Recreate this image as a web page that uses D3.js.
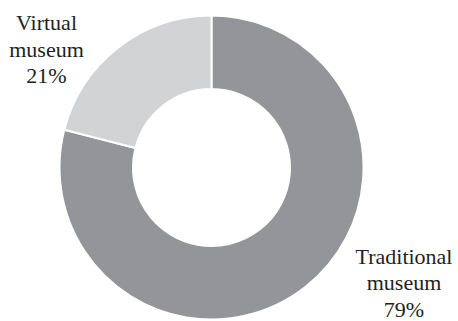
<!DOCTYPE html>
<html>
<head>
<meta charset="utf-8">
<script src="https://cdn.jsdelivr.net/npm/d3@7"></script>
<style>
  html, body { margin: 0; padding: 0; background: #fff; }
  svg { display: block; }
  text { font-family: "Liberation Serif", "DejaVu Serif", serif; fill: #231f20; }
</style>
</head>
<body>
<svg id="chart" width="458" height="321"></svg>
<script>
// Share of visitors by museum type
const categories = ["Traditional museum", "Virtual museum"];
const shares = [79, 21];
const sliceColors = ["#939598", "#d1d3d4"];
// Label lines per slice
const labelLines = [["Traditional", "museum", "79%"], ["Virtual", "museum", "21%"]];

const svg = d3.select("#chart");
const cx = 211.5, cy = 167.5;
const outerR = 152, innerR = 78.5;

const pie = d3.pie().sort(null).value(d => d)(shares);
const arc = d3.arc().innerRadius(innerR).outerRadius(outerR);

const g = svg.append("g").attr("transform", `translate(${cx},${cy})`);
g.selectAll("path")
  .data(pie)
  .join("path")
  .attr("d", arc)
  .attr("fill", (d, i) => sliceColors[i])
  .attr("stroke", "#fff")
  .attr("stroke-width", 2);

// Label anchor positions (first baseline), relative to the chart centre
const labelPos = [[192.5, 96], [-165, -137.5]];
const lineH = 26.5;

labelLines.forEach((lines, i) => {
  const t = svg.append("text")
    .attr("text-anchor", "middle")
    .attr("font-size", 22)
    .attr("transform", `translate(${cx + labelPos[i][0]},${cy + labelPos[i][1]})`);
  lines.forEach((s, j) => {
    t.append("tspan").attr("x", 0).attr("y", j * lineH).text(s);
  });
});
</script>
</body>
</html>
